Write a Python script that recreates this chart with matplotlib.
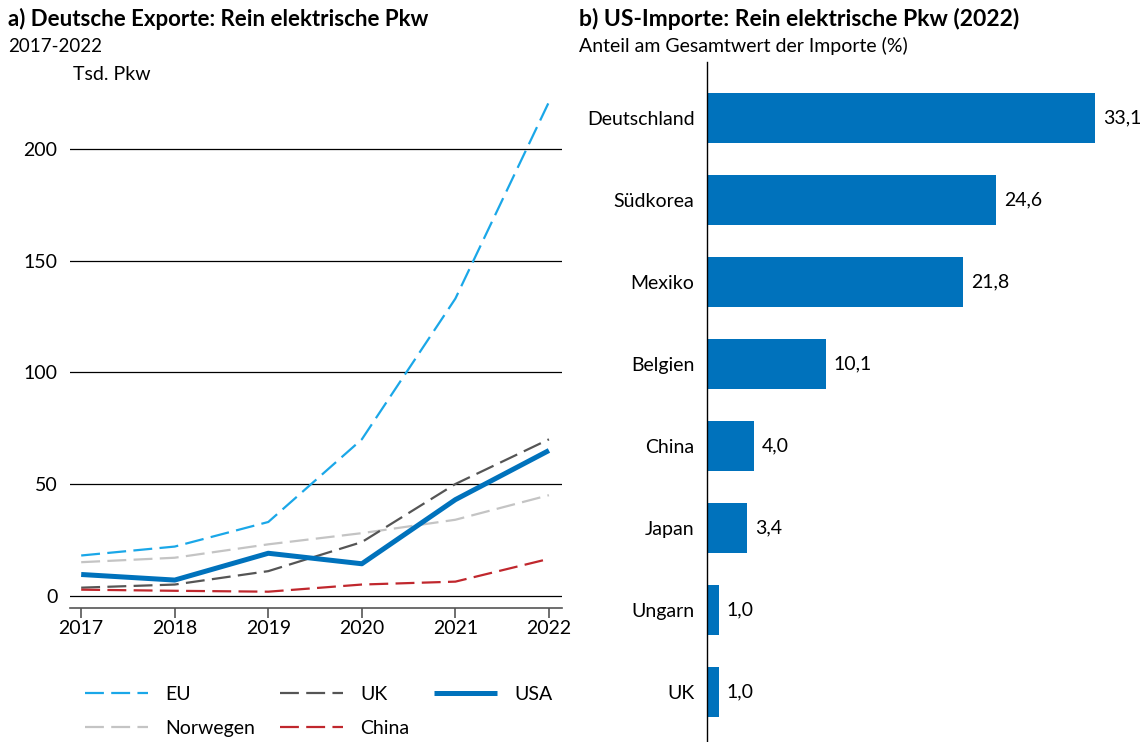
import matplotlib.pyplot as plt
import numpy as np

plt.rcParams['font.family'] = ['Lato', 'DejaVu Sans']

# panel a: German exports of battery electric cars (thousand units)
years = [2017, 2018, 2019, 2020, 2021, 2022]
eu = [18, 22, 33, 70, 133, 221]
uk = [3.6, 5, 11, 24, 50, 70]
usa = [9.5, 7, 19, 14.3, 43, 65]
norwegen = [15, 17, 23, 28, 34, 45]
china = [2.7, 2.2, 1.8, 5, 6.3, 16.5]

# panel b: US imports 2022, share of total value (%)
countries = ['Deutschland', 'Südkorea', 'Mexiko', 'Belgien', 'China', 'Japan', 'Ungarn', 'UK']
shares = [33.1, 24.6, 21.8, 10.1, 4.0, 3.4, 1.0, 1.0]

fig = plt.figure(figsize=(11.47, 7.42), dpi=100)

# ---- left panel
ax1 = fig.add_axes([0.061, 0.1806, 0.429, 0.694])
dash = (8.5, 3.3)
# plot order chosen so the column-wise legend reads EU, UK, USA / Norwegen, China
ax1.plot(years, eu, color='#1aa7e8', lw=1.6, dashes=dash, label='EU')
ax1.plot(years, norwegen, color='#c4c4c4', lw=1.6, dashes=dash, label='Norwegen')
ax1.plot(years, uk, color='#555555', lw=1.6, dashes=dash, label='UK')
ax1.plot(years, china, color='#c0272d', lw=1.6, dashes=dash, label='China')
ax1.plot(years, usa, color='#0072bc', lw=3.6, label='USA', solid_capstyle='butt')

ax1.set_xlim(2016.88, 2022.14)
ax1.set_ylim(-5.5, 225)
ax1.set_yticks([0, 50, 100, 150, 200])
ax1.set_xticks(years)
for v in [0, 50, 100, 150, 200]:
    ax1.axhline(v, color='black', lw=0.9, zorder=0)
for s in ['top', 'right', 'left']:
    ax1.spines[s].set_visible(False)
ax1.spines['bottom'].set_color('#555555')
ax1.spines['bottom'].set_linewidth(1.2)
ax1.tick_params(axis='y', length=0, labelsize=14, pad=9)
ax1.tick_params(axis='x', length=7, width=1.2, color='#555555', labelsize=14, pad=2)

leg = ax1.legend(loc='upper left', bbox_to_anchor=(0.03, -0.152), ncol=3, frameon=False,
                 fontsize=14, handlelength=3.25, handletextpad=0.9, columnspacing=1.25,
                 labelspacing=0.85, borderaxespad=0, borderpad=0)

fig.text(0.007, 0.975, 'a) Deutsche Exporte: Rein elektrische Pkw', fontsize=16,
         fontweight='bold', va='center')
fig.text(0.007, 0.938, '2017-2022', fontsize=13.5, va='center')
fig.text(0.064, 0.899, 'Tsd. Pkw', fontsize=14, va='center')

# ---- right panel
ax2 = fig.add_axes([0.6164, 0.0, 0.3836, 0.9164])
pos = np.arange(len(countries))
ax2.barh(pos, shares, height=0.6, color='#0072bc')
ax2.set_ylim(7.61, -0.683)
ax2.set_xlim(0, 37.5)
ax2.set_yticks(pos)
ax2.set_yticklabels(countries)
ax2.set_xticks([])
for s in ['top', 'right', 'bottom']:
    ax2.spines[s].set_visible(False)
ax2.spines['left'].set_linewidth(1.0)
ax2.tick_params(axis='y', length=0, labelsize=14, pad=9)
for p, v in zip(pos, shares):
    ax2.text(v + 0.7, p, f'{v:.1f}'.replace('.', ','), va='center', ha='left', fontsize=14)

fig.text(0.505, 0.975, 'b) US-Importe: Rein elektrische Pkw (2022)', fontsize=16.5,
         fontweight='bold', va='center')
fig.text(0.505, 0.938, 'Anteil am Gesamtwert der Importe (%)', fontsize=14, va='center')

fig.savefig('out.png', dpi=100)
